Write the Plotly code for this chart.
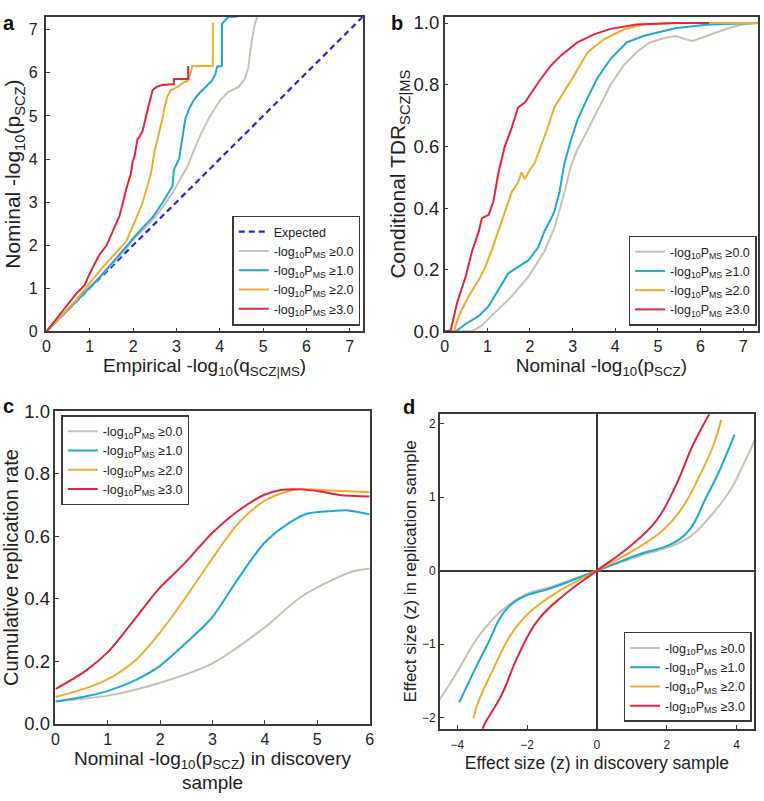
import plotly.graph_objects as go

# ---- colours ----
GRAY = "#C9C2B4"
BLUE = "#1CA9D6"
ORANGE = "#F0AC30"
RED = "#E3263C"
EXPECTED = "#2424E8"
AXIS = "#3A3A3A"
FONT = "Liberation Sans, Arial, sans-serif"

LABELS = [
    "-log<sub>10</sub>P<sub>MS</sub> ≥0.0",
    "-log<sub>10</sub>P<sub>MS</sub> ≥1.0",
    "-log<sub>10</sub>P<sub>MS</sub> ≥2.0",
    "-log<sub>10</sub>P<sub>MS</sub> ≥3.0",
]

# ---- panel a: empirical q (x) vs nominal p (y) ----
A_EXP = [0, 7.3]
A_GRAY_X = [0, 1.0, 1.69, 2.07, 2.37, 2.6, 2.91, 3.13, 3.25, 3.4, 3.55, 3.75, 3.9, 4.01, 4.2, 4.43, 4.58, 4.66, 4.7, 4.74, 4.81, 4.89]
A_GRAY_Y = [0, 1.0, 1.75, 2.2, 2.5, 2.77, 3.22, 3.6, 3.82, 4.2, 4.55, 4.95, 5.18, 5.37, 5.56, 5.67, 5.86, 6.12, 6.46, 6.76, 7.14, 7.35]
A_BLUE_X = [0, 0.85, 1.23, 1.69, 2.07, 2.45, 2.68, 2.91, 2.94, 3.06, 3.13, 3.21, 3.3, 3.4, 3.52, 3.67, 3.82, 3.9, 3.94, 4.05, 4.05, 4.09, 4.2, 4.4]
A_BLUE_Y = [0, 0.88, 1.26, 1.79, 2.24, 2.65, 2.99, 3.37, 3.75, 4.0, 4.5, 4.95, 5.18, 5.37, 5.52, 5.67, 5.82, 5.97, 6.15, 6.16, 7.14, 7.18, 7.3, 7.3]
A_ORANGE_X = [0, 0.69, 0.99, 1.3, 1.61, 1.84, 2.07, 2.22, 2.37, 2.41, 2.5, 2.56, 2.6, 2.68, 2.72, 2.79, 2.87, 3.02, 3.13, 3.27, 3.35, 3.36, 3.84, 3.84]
A_ORANGE_Y = [0, 0.73, 1.11, 1.49, 1.83, 2.09, 2.62, 2.99, 3.52, 3.67, 4.2, 4.45, 4.58, 4.95, 5.18, 5.45, 5.6, 5.67, 5.75, 5.82, 6.09, 6.16, 6.16, 7.16]
A_RED_X = [0, 0.39, 0.69, 0.88, 0.99, 1.15, 1.23, 1.38, 1.53, 1.69, 1.84, 1.95, 1.99, 2.03, 2.1, 2.14, 2.22, 2.3, 2.37, 2.45, 2.55, 2.68, 2.94, 2.94, 3.27, 3.27]
A_RED_Y = [0, 0.5, 0.88, 1.07, 1.33, 1.64, 1.79, 1.98, 2.31, 2.69, 3.3, 3.67, 3.94, 4.05, 4.46, 4.5, 4.66, 5.03, 5.29, 5.6, 5.68, 5.72, 5.74, 5.86, 5.86, 6.16]

# ---- panel b: nominal p (x) vs conditional TDR (y) ----
B_GRAY_X = [0, 0.64, 0.87, 1.18, 1.57, 1.96, 2.34, 2.57, 2.81, 2.96, 3.11, 3.35, 3.58, 3.89, 4.2, 4.5, 4.81, 5.2, 5.43, 5.66, 5.82, 6.05, 6.36, 6.67, 6.98, 7.35]
B_GRAY_Y = [0, 0, 0.019, 0.061, 0.114, 0.177, 0.26, 0.335, 0.451, 0.536, 0.589, 0.652, 0.715, 0.8, 0.863, 0.905, 0.937, 0.953, 0.958, 0.947, 0.942, 0.953, 0.968, 0.984, 0.995, 1.0]
B_BLUE_X = [0, 0.26, 0.49, 0.8, 1.03, 1.26, 1.49, 1.72, 1.96, 2.19, 2.34, 2.5, 2.57, 2.69, 2.81, 2.96, 3.11, 3.35, 3.58, 3.89, 4.27, 4.66, 5.43, 6.2, 6.98, 7.35]
B_BLUE_Y = [0, 0, 0.024, 0.05, 0.082, 0.135, 0.188, 0.209, 0.23, 0.272, 0.325, 0.367, 0.388, 0.451, 0.546, 0.62, 0.684, 0.757, 0.821, 0.884, 0.937, 0.958, 0.984, 0.995, 1.0, 1.0]
B_ORANGE_X = [0, 0.22, 0.33, 0.56, 0.8, 0.95, 1.1, 1.26, 1.38, 1.57, 1.72, 1.8, 1.88, 2.0, 2.11, 2.26, 2.42, 2.57, 2.81, 3.04, 3.35, 3.73, 4.2, 4.66, 5.43, 7.35]
B_ORANGE_Y = [0, 0.003, 0.05, 0.114, 0.167, 0.209, 0.262, 0.325, 0.378, 0.451, 0.483, 0.515, 0.494, 0.525, 0.546, 0.6, 0.662, 0.726, 0.778, 0.831, 0.905, 0.947, 0.979, 0.995, 1.0, 1.0]
B_RED_X = [0, 0.14, 0.29, 0.49, 0.64, 0.8, 0.87, 1.03, 1.14, 1.26, 1.41, 1.57, 1.72, 1.88, 2.03, 2.26, 2.5, 2.73, 3.11, 3.5, 3.89, 4.5, 5.43, 6.2]
B_RED_Y = [0, 0.003, 0.093, 0.177, 0.26, 0.325, 0.367, 0.378, 0.42, 0.515, 0.6, 0.66, 0.726, 0.742, 0.773, 0.82, 0.863, 0.895, 0.937, 0.963, 0.981, 0.995, 1.0, 1.0]

# ---- panel c: cumulative replication rate ----
C_GRAY_X = [0, 1.03, 1.97, 2.98, 3.98, 4.68, 5.31, 5.69, 6.0]
C_GRAY_Y = [0.071, 0.091, 0.13, 0.192, 0.306, 0.405, 0.462, 0.488, 0.497]
C_BLUE_X = [0, 0.59, 1.03, 1.53, 1.97, 2.47, 2.98, 3.48, 3.98, 4.43, 4.8, 5.31, 5.56, 6.0]
C_BLUE_Y = [0.071, 0.088, 0.107, 0.14, 0.182, 0.255, 0.338, 0.462, 0.577, 0.639, 0.672, 0.681, 0.683, 0.67]
C_ORANGE_X = [0, 0.59, 1.03, 1.53, 1.97, 2.47, 2.98, 3.48, 3.98, 4.43, 4.68, 5.06, 6.0]
C_ORANGE_Y = [0.086, 0.114, 0.145, 0.203, 0.286, 0.4, 0.525, 0.639, 0.712, 0.743, 0.751, 0.748, 0.741]
C_RED_X = [0, 0.59, 1.03, 1.53, 1.97, 2.47, 2.98, 3.48, 3.98, 4.3, 4.68, 5.06, 5.43, 6.0]
C_RED_Y = [0.111, 0.171, 0.234, 0.338, 0.431, 0.514, 0.608, 0.68, 0.732, 0.748, 0.75, 0.743, 0.732, 0.727]

# ---- panel d: effect size discovery (x) vs replication (y) ----
D_GRAY_X = [-4.6, -4.49, -3.97, -3.4, -2.74, -2.08, -1.32, 0, 1.34, 2.0, 2.66, 3.23, 3.8, 4.18, 4.53]
D_GRAY_Y = [-1.8, -1.74, -1.35, -0.9, -0.55, -0.33, -0.22, 0, 0.22, 0.31, 0.46, 0.73, 1.08, 1.43, 1.79]
D_BLUE_X = [-3.94, -3.5, -3.12, -2.64, -2.08, -1.32, 0, 1.32, 2.08, 2.64, 3.12, 3.5, 3.94]
D_BLUE_Y = [-1.79, -1.35, -0.99, -0.55, -0.35, -0.24, 0, 0.24, 0.35, 0.55, 0.99, 1.35, 1.85]
D_ORANGE_X = [-3.54, -3.4, -3.02, -2.45, -1.89, -1.13, 0, 1.13, 1.89, 2.45, 2.95, 3.33, 3.56]
D_ORANGE_Y = [-2.01, -1.79, -1.39, -0.86, -0.55, -0.29, 0, 0.3, 0.55, 0.86, 1.3, 1.7, 2.05]
D_RED_X = [-3.3, -3.23, -2.74, -2.27, -1.7, -0.94, 0, 0.94, 1.7, 2.27, 2.74, 3.23]
D_RED_Y = [-2.2, -2.1, -1.7, -1.17, -0.68, -0.33, 0, 0.33, 0.68, 1.17, 1.7, 2.14]

COLORS = [GRAY, BLUE, ORANGE, RED]
W, H = 764, 801


def px_x(p):
    return p / W


def px_y(p):
    return 1 - p / H


fig = go.Figure()

# panel a
fig.add_trace(go.Scatter(x=A_EXP, y=A_EXP, mode="lines", name="Expected",
                         line=dict(color=EXPECTED, width=2.2, dash="6px,4px"),
                         xaxis="x", yaxis="y", legend="legend"))
for (xs, ys), c, lab in zip([(A_GRAY_X, A_GRAY_Y), (A_BLUE_X, A_BLUE_Y),
                             (A_ORANGE_X, A_ORANGE_Y), (A_RED_X, A_RED_Y)], COLORS, LABELS):
    fig.add_trace(go.Scatter(x=xs, y=ys, mode="lines", name=lab, line=dict(color=c, width=2),
                             xaxis="x", yaxis="y", legend="legend"))

# panel b
for (xs, ys), c, lab in zip([(B_GRAY_X, B_GRAY_Y), (B_BLUE_X, B_BLUE_Y),
                             (B_ORANGE_X, B_ORANGE_Y), (B_RED_X, B_RED_Y)], COLORS, LABELS):
    fig.add_trace(go.Scatter(x=xs, y=ys, mode="lines", name=lab, line=dict(color=c, width=2),
                             xaxis="x2", yaxis="y2", legend="legend2"))

# panel c
for (xs, ys), c, lab in zip([(C_GRAY_X, C_GRAY_Y), (C_BLUE_X, C_BLUE_Y),
                             (C_ORANGE_X, C_ORANGE_Y), (C_RED_X, C_RED_Y)], COLORS, LABELS):
    fig.add_trace(go.Scatter(x=xs, y=ys, mode="lines", name=lab,
                             line=dict(color=c, width=2, shape="spline", smoothing=0.8),
                             xaxis="x3", yaxis="y3", legend="legend3"))

# panel d
for (xs, ys), c, lab in zip([(D_GRAY_X, D_GRAY_Y), (D_BLUE_X, D_BLUE_Y),
                             (D_ORANGE_X, D_ORANGE_Y), (D_RED_X, D_RED_Y)], COLORS, LABELS):
    fig.add_trace(go.Scatter(x=xs, y=ys, mode="lines", name=lab,
                             line=dict(color=c, width=2, shape="spline", smoothing=1.2),
                             xaxis="x4", yaxis="y4", legend="legend4"))


def axis(domain, rng, title, tickvals, tickfont=16, titlefont=19, anchor=None, fmt=None, **kw):
    d = dict(domain=domain, range=rng, tickvals=tickvals, showgrid=False, zeroline=False,
             showline=True, linecolor=AXIS, linewidth=1.5, mirror=True,
             ticks="inside", ticklen=4, tickcolor=AXIS,
             tickfont=dict(size=tickfont, color="#222", family=FONT),
             title=dict(text=title, font=dict(size=titlefont, color="#222", family=FONT)),
             anchor=anchor)
    if fmt:
        d["tickformat"] = fmt
    d.update(kw)
    return d


def legend(x, y, xanchor, yanchor):
    return dict(x=x, y=y, xanchor=xanchor, yanchor=yanchor, bgcolor="white",
                bordercolor=AXIS, borderwidth=1.5, font=dict(size=12.5, family=FONT, color="#222"),
                itemwidth=30, tracegroupgap=0)


fig.update_layout(
    width=W, height=H, plot_bgcolor="white", paper_bgcolor="white",
    margin=dict(l=0, r=0, t=0, b=0),
    font=dict(family=FONT),
    xaxis=axis([px_x(43), px_x(363)], [0, 7.3], "Empirical -log<sub>10</sub>(q<sub>SCZ|MS</sub>)",
               list(range(8)), anchor="y", title_standoff=0),
    yaxis=axis([px_y(329), px_y(6)], [0, 7.3], "Nominal -log<sub>10</sub>(p<sub>SCZ</sub>)",
               list(range(8)), titlefont=21, anchor="x", title_standoff=2, ticklabelstandoff=4),
    xaxis2=axis([px_x(446), px_x(763)], [0, 7.35], "Nominal -log<sub>10</sub>(p<sub>SCZ</sub>)",
                list(range(8)), anchor="y2", title_standoff=0),
    yaxis2=axis([px_y(329), px_y(6)], [0, 1.02], "Conditional TDR<sub>SCZ|MS</sub>",
                [0, 0.2, 0.4, 0.6, 0.8, 1.0], tickfont=18.5, titlefont=21, anchor="x2", fmt=".1f",
                title_standoff=2),
    xaxis3=axis([px_x(52), px_x(370)], [0, 6], "Nominal -log<sub>10</sub>(p<sub>SCZ</sub>) in discovery<br>sample",
                list(range(7)), anchor="y3", title_standoff=2),
    yaxis3=axis([px_y(732), px_y(411)], [0, 1.0], "Cumulative replication rate",
                [0, 0.2, 0.4, 0.6, 0.8, 1.0], tickfont=18.5, titlefont=20, anchor="x3", fmt=".1f",
                title_standoff=2),
    xaxis4=axis([px_x(441), px_x(759)], [-4.5, 4.5], "Effect size (z) in discovery sample",
                [-4, -2, 0, 2, 4], tickfont=12, titlefont=17.5, anchor="y4", title_standoff=6,
                ticklabelstandoff=4, zeroline=True, zerolinecolor=AXIS, zerolinewidth=1.5),
    yaxis4=axis([px_y(737), px_y(414)], [-2.15, 2.13], "Effect size (z) in replication sample",
                [-2, -1, 0, 1, 2], tickfont=12, titlefont=17, anchor="x4", title_standoff=1,
                zeroline=True, zerolinecolor=AXIS, zerolinewidth=1.5),
    legend=legend(px_x(231), px_y(323), "left", "bottom"),
    legend2=legend(px_x(632), px_y(323), "left", "bottom"),
    legend3=legend(px_x(58), px_y(415), "left", "top"),
    legend4=legend(px_x(627), px_y(730), "left", "bottom"),
    showlegend=True,
)

for txt, x, y in [("a", 5, 12), ("b", 398, 12), ("c", 5, 406), ("d", 410, 407)]:
    fig.add_annotation(text=f"<b>{txt}</b>", x=px_x(x), y=px_y(y), xref="paper", yref="paper",
                       showarrow=False, xanchor="center", yanchor="middle",
                       font=dict(size=20, color="#111", family=FONT))

# the page body has an 8px default margin; drop it so the figure fills the window
fig.write_html("out.html", config={"displayModeBar": False},
               post_script="document.body.style.margin='0px';")
